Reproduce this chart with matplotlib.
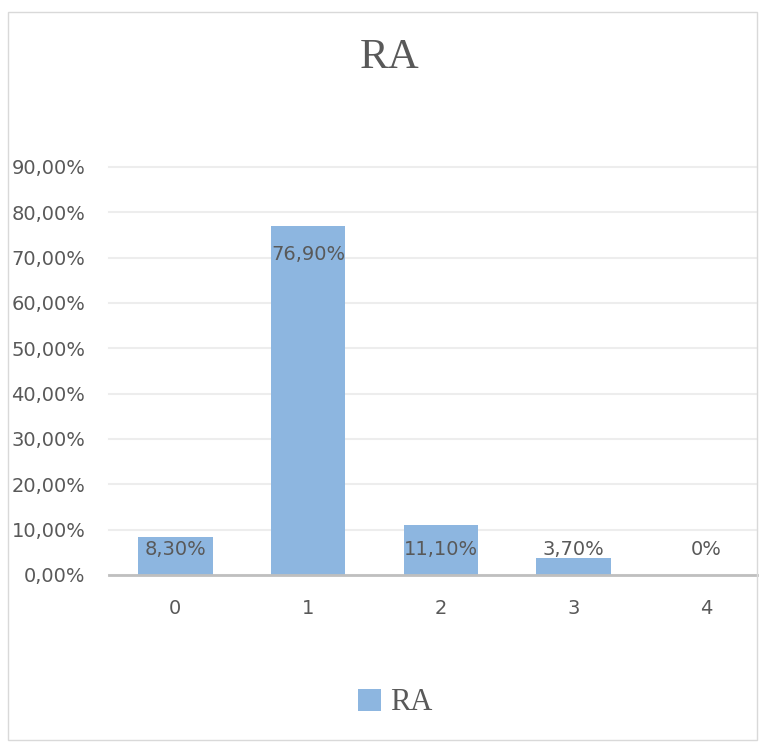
import matplotlib.pyplot as plt
from matplotlib.patches import Rectangle

# data
categories = ['0', '1', '2', '3', '4']
values = [0.083, 0.769, 0.111, 0.037, 0.0]
labels = ['8,30%', '76,90%', '11,10%', '3,70%', '0%']
y_ticks = [0.0, 0.1, 0.2, 0.3, 0.4, 0.5, 0.6, 0.7, 0.8, 0.9]
y_tick_labels = ['0,00%', '10,00%', '20,00%', '30,00%', '40,00%',
                 '50,00%', '60,00%', '70,00%', '80,00%', '90,00%']

W, H = 766, 745
bar_color = '#8DB6E0'
text_color = '#595959'

fig = plt.figure(figsize=(W / 100, H / 100), dpi=100)
fig.patch.set_facecolor('white')

# outer chart border
fig.add_artist(Rectangle((8 / W, 1 - 740 / H), 749 / W, 728 / H, transform=fig.transFigure,
                         fill=False, edgecolor='#D9D9D9', linewidth=1))

# plot area: 0% at y=575, 90% at y=167
left, right = 109, 757
top, bottom = 167, 575
ax = fig.add_axes([left / W, 1 - bottom / H, (right - left) / W, (bottom - top) / H])

x = list(range(len(categories)))
ax.bar(x, values, width=0.56, color=bar_color, zorder=2)

# data labels (inside end, with a floor for short bars)
for xi, v, lab in zip(x, values, labels):
    y = max(v - 0.062, 0.057)
    ax.text(xi, y, lab, ha='center', va='center', fontsize=14, color=text_color, zorder=3)

ax.set_xlim(-0.5, (right - left) / 132.7 - 0.5)
ax.set_ylim(0, 0.9)
ax.set_yticks(y_ticks)
ax.set_yticklabels(y_tick_labels)
ax.set_xticks(x)
ax.set_xticklabels(categories)
ax.tick_params(axis='both', length=0, labelsize=14, labelcolor=text_color)
ax.tick_params(axis='y', pad=17)
ax.tick_params(axis='x', pad=17)

ax.yaxis.grid(True, color='#EDEDED', linewidth=1.5, zorder=0)
for gl in ax.get_ygridlines():
    gl.set_clip_on(False)
ax.set_axisbelow(True)
for s in ['top', 'right', 'left']:
    ax.spines[s].set_visible(False)
ax.spines['bottom'].set_color('#BFBFBF')
ax.spines['bottom'].set_linewidth(2)
ax.spines['bottom'].set_zorder(4)
ax.patch.set_alpha(0)

# title
fig.text(390 / W, 1 - 58 / H, 'RA', ha='center', va='center', fontsize=31,
         family='Liberation Serif', color=text_color)

# legend
handle = Rectangle((0, 0), 1, 1, facecolor=bar_color, edgecolor='none')
fig.legend([handle], ['RA'], loc='center', bbox_to_anchor=(395 / W, 1 - 703 / H),
           frameon=False, handlelength=0.75, handleheight=0.75, handletextpad=0.3,
           prop={'family': 'Liberation Serif', 'size': 22}, labelcolor=text_color)

fig.savefig('out.png', dpi=100)
